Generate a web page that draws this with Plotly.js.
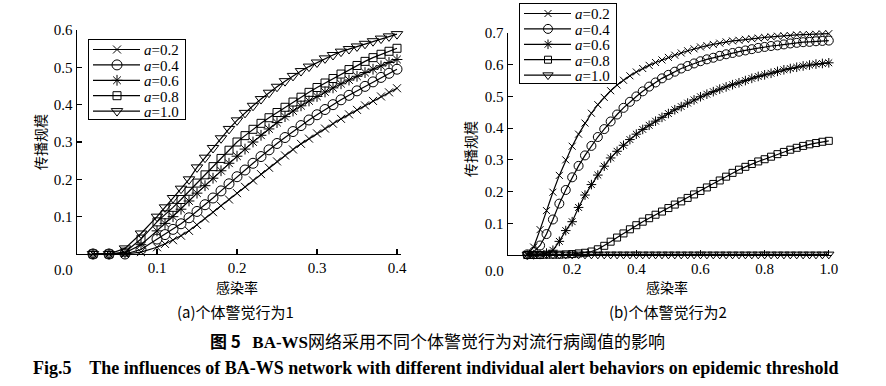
<!DOCTYPE html>
<html><head><meta charset="utf-8">
<script src="https://cdn.plot.ly/plotly-3.0.1.min.js"></script>
<style>html,body{margin:0;padding:0;background:#fff;}</style>
</head><body><div id="chart" style="width:886px;height:386px;"></div>
<script>
// ---- data ----
var seriesNames = ['<i>a</i>=0.2','<i>a</i>=0.4','<i>a</i>=0.6','<i>a</i>=0.8','<i>a</i>=1.0'];

// (a) 个体警觉行为1
var xL = [0.02,0.04,0.06,0.08,0.10,0.11,0.12,0.13,0.14,0.15,0.16,0.17,0.18,0.19,0.20,0.21,0.22,0.23,0.24,0.25,0.26,0.27,0.28,0.29,0.30,0.31,0.32,0.33,0.34,0.35,0.36,0.37,0.38,0.39,0.40];
var a02L = [0,0,0,0.005,0.018,0.027,0.037,0.049,0.062,0.078,0.095,0.112,0.129,0.146,0.163,0.18,0.197,0.214,0.231,0.248,0.264,0.28,0.295,0.309,0.323,0.336,0.349,0.362,0.374,0.386,0.398,0.41,0.422,0.433,0.444];
var a04L = [0,0,0,0.012,0.04,0.052,0.066,0.081,0.097,0.114,0.132,0.15,0.169,0.188,0.207,0.225,0.243,0.261,0.279,0.296,0.312,0.328,0.344,0.359,0.373,0.387,0.4,0.413,0.425,0.437,0.449,0.461,0.473,0.484,0.495];
var a06L = [0,0,0.003,0.025,0.062,0.082,0.10,0.12,0.142,0.163,0.183,0.203,0.223,0.243,0.262,0.281,0.30,0.318,0.335,0.352,0.368,0.383,0.397,0.41,0.422,0.434,0.445,0.456,0.466,0.476,0.486,0.495,0.504,0.513,0.521];
var a08L = [0,0,0.005,0.04,0.086,0.105,0.125,0.146,0.168,0.19,0.212,0.234,0.256,0.278,0.30,0.317,0.334,0.35,0.365,0.379,0.393,0.407,0.42,0.433,0.446,0.458,0.47,0.482,0.494,0.505,0.516,0.526,0.535,0.543,0.551];
var a10L = [0,0,0.015,0.055,0.10,0.125,0.15,0.175,0.20,0.232,0.258,0.284,0.31,0.335,0.358,0.378,0.397,0.415,0.432,0.448,0.463,0.477,0.49,0.502,0.513,0.524,0.533,0.542,0.549,0.556,0.563,0.57,0.577,0.583,0.589];

// (b) 个体警觉行为2
var xR = [0.06,0.08,0.10,0.12,0.14,0.16,0.18,0.20,0.22,0.24,0.26,0.28,0.30,0.32,0.34,0.36,0.38,0.40,0.42,0.44,0.46,0.48,0.50,0.52,0.54,0.56,0.58,0.60,0.62,0.64,0.66,0.68,0.70,0.72,0.74,0.76,0.78,0.80,0.82,0.84,0.86,0.88,0.90,0.92,0.94,0.96,0.98,1.00];
var a02R = [0.002,0.025,0.08,0.14,0.198,0.251,0.3,0.343,0.381,0.416,0.447,0.474,0.497,0.518,0.536,0.551,0.565,0.577,0.588,0.598,0.607,0.615,0.623,0.63,0.637,0.644,0.65,0.656,0.66,0.664,0.668,0.672,0.675,0.677,0.68,0.682,0.684,0.686,0.688,0.69,0.691,0.692,0.694,0.695,0.695,0.696,0.697,0.698];
var a04R = [0.002,0.01,0.03,0.066,0.112,0.162,0.205,0.245,0.281,0.314,0.344,0.372,0.397,0.421,0.443,0.464,0.483,0.5,0.516,0.531,0.544,0.557,0.568,0.578,0.588,0.596,0.604,0.611,0.617,0.622,0.628,0.633,0.637,0.641,0.645,0.649,0.653,0.656,0.659,0.661,0.664,0.667,0.669,0.671,0.672,0.674,0.675,0.676];
var a06R = [0,0.001,0.002,0.006,0.015,0.043,0.077,0.105,0.15,0.189,0.222,0.252,0.28,0.306,0.327,0.346,0.364,0.381,0.396,0.409,0.422,0.434,0.446,0.458,0.468,0.479,0.489,0.499,0.507,0.515,0.523,0.53,0.537,0.543,0.55,0.557,0.563,0.568,0.573,0.579,0.584,0.588,0.592,0.596,0.599,0.602,0.604,0.606];
var a08R = [0,0,0,0.001,0.001,0.001,0.002,0.003,0.005,0.007,0.011,0.018,0.029,0.042,0.055,0.068,0.081,0.094,0.105,0.116,0.127,0.137,0.148,0.159,0.169,0.18,0.191,0.202,0.213,0.224,0.235,0.247,0.259,0.269,0.278,0.287,0.295,0.302,0.31,0.318,0.325,0.332,0.338,0.344,0.349,0.353,0.357,0.36];
var a10R = [0.002,0.002,0.002,0.002,0.002,0.002,0.002,0.002,0.002,0.002,0.002,0.002,0.002,0.002,0.002,0.002,0.002,0.002,0.002,0.002,0.002,0.002,0.002,0.002,0.002,0.002,0.002,0.002,0.002,0.002,0.002,0.002,0.002,0.002,0.002,0.002,0.002,0.002,0.002,0.002,0.002,0.002,0.002,0.002,0.002,0.002,0.002,0.002];

var ticksL_x = [0.1,0.2,0.3,0.4];
var ticksL_y = [0.1,0.2,0.3,0.4,0.5,0.6];
var ticksR_x = [0.2,0.4,0.6,0.8,1.0];
var ticksR_y = [0.1,0.2,0.3,0.4,0.5,0.6,0.7];

// ---- styles ----
var symbols = ['x-thin-open','circle-open','asterisk-open','square-open','triangle-down-open'];
var sizesL = [8,10,9,8,10];
var sizesR = [7,9,8,7,9];
var serif = 'Liberation Serif, Times New Roman, serif';
var cjk = 'Noto Sans CJK SC, sans-serif';

var leftY = [a02L,a04L,a06L,a08L,a10L];
var rightY = [a02R,a04R,a06R,a08R,a10R];
var traces = [];
for (var i=0;i<5;i++){
  traces.push({x:xL, y:leftY[i], xaxis:'x', yaxis:'y', legend:'legend', name:seriesNames[i],
    type:'scatter', mode:'lines+markers', cliponaxis:false,
    line:{color:'#000', width:1.2},
    marker:{symbol:symbols[i], size:sizesL[i], color:'#000', line:{color:'#000', width:1}}});
}
for (var j=0;j<5;j++){
  traces.push({x:xR, y:rightY[j], xaxis:'x2', yaxis:'y2', legend:'legend2', name:seriesNames[j],
    type:'scatter', mode:'lines+markers', cliponaxis:false,
    line:{color:'#000', width:1.2},
    marker:{symbol:symbols[j], size:sizesR[j], color:'#000', line:{color:'#000', width:1}}});
}

function axisBase(){
  return {showgrid:false, zeroline:false, showline:true, linecolor:'#000', linewidth:1.4,
    ticks:'inside', ticklen:5, tickwidth:1.2, tickcolor:'#000', tickformat:'.1f',
    tickfont:{family:serif, size:15, color:'#000'}, fixedrange:true};
}
var xa = axisBase(); xa.domain=[77/886, 401/886]; xa.range=[0,0.405]; xa.tickvals=ticksL_x; xa.anchor='y';
var ya = axisBase(); ya.domain=[132/386, 356/386]; ya.range=[0,0.6]; ya.tickvals=ticksL_y; ya.anchor='x';
var xb = axisBase(); xb.domain=[508/886, 832/886]; xb.range=[0,1.01]; xb.tickvals=ticksR_x; xb.anchor='y2';
var yb = axisBase(); yb.domain=[131/386, 353/386]; yb.range=[0,0.7]; yb.tickvals=ticksR_y; yb.anchor='x2';

function legendBox(x,y){
  return {x:x, y:y, xanchor:'left', yanchor:'top', bgcolor:'#fff', bordercolor:'#000', borderwidth:1,
    font:{family:serif, size:15, color:'#000'}, itemwidth:45, tracegroupgap:0, itemclick:false, itemdoubleclick:false};
}

var ann = [
  {text:'0.0', xref:'x', yref:'y', x:0, y:0, xanchor:'center', yanchor:'top', xshift:-14, yshift:-6, showarrow:false, font:{family:serif,size:15,color:'#000'}},
  {text:'0.0', xref:'x2', yref:'y2', x:0, y:0, xanchor:'center', yanchor:'top', xshift:-14, yshift:-6, showarrow:false, font:{family:serif,size:15,color:'#000'}},
  {text:'感染率', xref:'paper', yref:'paper', x:237/886, y:(386-287)/386, xanchor:'center', yanchor:'middle', showarrow:false, font:{family:cjk,size:14,color:'#000'}},
  {text:'感染率', xref:'paper', yref:'paper', x:667/886, y:(386-287)/386, xanchor:'center', yanchor:'middle', showarrow:false, font:{family:cjk,size:14,color:'#000'}},
  {text:'传播规模', xref:'paper', yref:'paper', x:40/886, y:(386-142)/386, xanchor:'center', yanchor:'middle', textangle:-90, showarrow:false, font:{family:cjk,size:14,color:'#000'}},
  {text:'传播规模', xref:'paper', yref:'paper', x:470/886, y:(386-149)/386, xanchor:'center', yanchor:'middle', textangle:-90, showarrow:false, font:{family:cjk,size:14,color:'#000'}},
  {text:'(a)个体警觉行为1', xref:'paper', yref:'paper', x:235/886, y:(386-311)/386, xanchor:'center', yanchor:'middle', showarrow:false, font:{family:cjk,size:15,color:'#000'}},
  {text:'(b)个体警觉行为2', xref:'paper', yref:'paper', x:668/886, y:(386-311)/386, xanchor:'center', yanchor:'middle', showarrow:false, font:{family:cjk,size:15,color:'#000'}},
  {text:'<b>图 5</b>   <b><span style="font-family:Liberation Serif">BA-WS</span></b>网络采用不同个体警觉行为对流行病阈值的影响', xref:'paper', yref:'paper', x:437/886, y:(386-340)/386, xanchor:'center', yanchor:'middle', showarrow:false, font:{family:cjk,size:17,color:'#000'}},
  {text:'<b>Fig.5    The influences of BA-WS network with different individual alert behaviors on epidemic threshold</b>', xref:'paper', yref:'paper', x:436/886, y:(386-368)/386, xanchor:'center', yanchor:'middle', showarrow:false, font:{family:serif,size:18,color:'#000'}}
];

var layout = {
  width:886, height:386, autosize:false,
  margin:{l:0,r:0,t:0,b:0,pad:0},
  paper_bgcolor:'#fff', plot_bgcolor:'rgba(0,0,0,0)',
  showlegend:true,
  xaxis:xa, yaxis:ya, xaxis2:xb, yaxis2:yb,
  legend:legendBox(88/886, (386-39)/386),
  legend2:legendBox(519/886, (386-3)/386),
  annotations:ann,
  font:{family:serif, color:'#000'}
};

// tighten legend rows to match the compact legend of the original figure
function compactLegends(){
  var ROW = 15.4, FIRST = 10.5, BOTTOM = 7.5;
  var groups = document.querySelectorAll('g.legend, g.legend2');
  groups.forEach(function(lg){
    var items = lg.querySelectorAll('g.traces');
    items.forEach(function(it, k){
      var tr = it.getAttribute('transform') || '';
      var m = tr.match(/translate\(\s*([-\d.]+)[ ,]+([-\d.]+)\s*\)/);
      var tx = m ? parseFloat(m[1]) : 0;
      it.setAttribute('transform', 'translate(' + tx + ',' + (FIRST + k*ROW) + ')');
      var ln = it.querySelector('path.js-line');
      if (ln) ln.setAttribute('d', 'M4,0h47');
      var pts = it.querySelectorAll('path.scatterpts');
      pts.forEach(function(p){ p.setAttribute('transform', 'translate(28,0)'); });
    });
    var h = FIRST + (items.length-1)*ROW + BOTTOM;
    var bg = lg.querySelector('rect.bg');
    if (bg) bg.setAttribute('height', h);
  });
}

Plotly.newPlot('chart', traces, layout, {staticPlot:true, displayModeBar:false}).then(compactLegends);
</script></body></html>
